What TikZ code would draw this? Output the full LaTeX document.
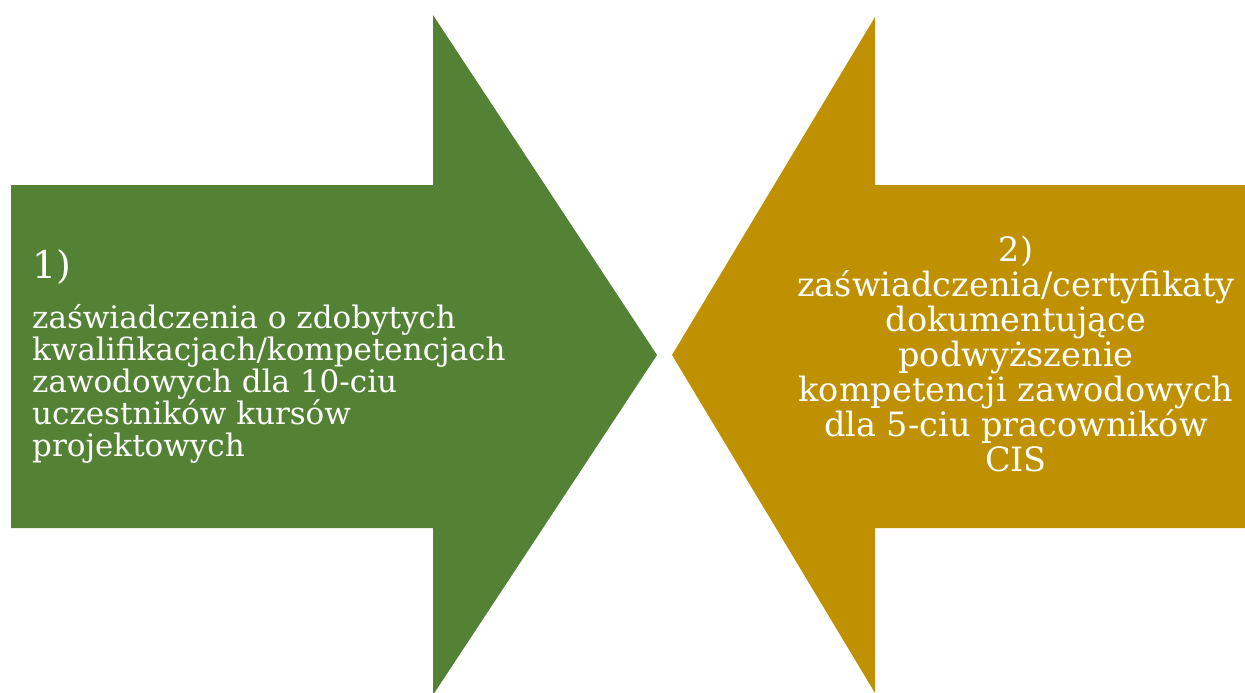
\documentclass[tikz,border=0pt]{standalone}
\usepackage{fontspec}
\setmainfont{DejaVu Serif}
\definecolor{arrgreen}{HTML}{548235}
\definecolor{arrgold}{HTML}{BF9000}
\begin{document}
\begin{tikzpicture}[x=1pt,y=-1pt,
  lefttext/.style={text=white,align=left,inner sep=0pt,anchor=north west,font=\fontsize{31}{32}\selectfont},
  righttext/.style={text=white,align=center,inner sep=0pt,anchor=north,font=\fontsize{33.5}{35}\selectfont}]
\useasboundingbox (0,0) rectangle (1245,693);
\begin{scope}
\clip (0,0) rectangle (1245,693);
\fill[arrgreen] (11,185) -- (433,185) -- (433,15) -- (657,355) -- (433,695) -- (433,528) -- (11,528) -- cycle;
\fill[arrgold] (1250,185) -- (875,185) -- (875,17) -- (672,355) -- (875,693) -- (875,528) -- (1250,528) -- cycle;
\end{scope}
\node[lefttext,anchor=base west,font=\fontsize{38}{40}\selectfont] (num1) at (32,278) {1)};
\node[lefttext] (body1) at (32,304) {zaświadczenia o zdobytych\\kwalifikacjach/kompetencjach\\zawodowych dla 10-ciu\\uczestników kursów\\projektowych};
\node[righttext] (body2) at (1016,236) {2)\\zaświadczenia/certyfikaty\\dokumentujące\\podwyższenie\\kompetencji zawodowych\\dla 5-ciu pracowników\\CIS};
\end{tikzpicture}
\end{document}
